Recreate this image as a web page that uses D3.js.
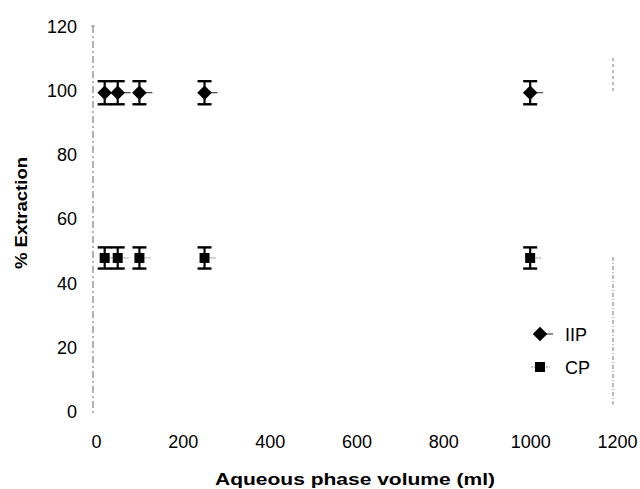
<!DOCTYPE html>
<html>
<head>
<meta charset="utf-8">
<script src="https://cdn.jsdelivr.net/npm/d3@7/dist/d3.min.js"></script>
<style>
  html, body { margin: 0; padding: 0; background: #fff; }
  svg { display: block; }
  text { font-family: "Liberation Sans", Arial, sans-serif; fill: #000; }
</style>
</head>
<body>
<svg id="chart" width="640" height="489"></svg>
<script>
// Aqueous phase volume (ml) and % extraction for each polymer
const volumes = [20, 50, 100, 250, 1000];
const iipValues = [99.2, 99.2, 99.2, 99.2, 99.2];
const iipErrors = [3.6, 3.6, 3.6, 3.6, 3.6];
const cpValues = [47.7, 47.7, 47.7, 47.7, 47.7];
const cpErrors = [3.3, 3.3, 3.3, 3.3, 3.3];
const xTicks = [0, 200, 400, 600, 800, 1000, 1200];
const yTicks = [0, 20, 40, 60, 80, 100, 120];
const seriesNames = ["IIP", "CP"];

const svg = d3.select("#chart");

const x = d3.scaleLinear().domain([0, 1200]).range([96, 617]);
const y = d3.scaleLinear().domain([0, 120]).range([411, 26]);

// Left value axis: broken grey line with labels only
svg.append("line")
  .attr("x1", 93).attr("x2", 93)
  .attr("y1", y(120)).attr("y2", y(0) + 2)
  .attr("stroke", "#666").attr("stroke-width", 1)
  .attr("stroke-dasharray", "7,3,2,3");
svg.append("line")
  .attr("x1", 91).attr("x2", 95)
  .attr("y1", y(120)).attr("y2", y(120))
  .attr("stroke", "#888").attr("stroke-width", 1);

// Right border of the plot area (faint, broken)
svg.append("line")
  .attr("x1", 613).attr("x2", 613)
  .attr("y1", y(110)).attr("y2", y(99))
  .attr("stroke", "#777").attr("stroke-width", 1)
  .attr("stroke-dasharray", "3,3");
svg.append("line")
  .attr("x1", 613).attr("x2", 613)
  .attr("y1", y(48)).attr("y2", y(2))
  .attr("stroke", "#777").attr("stroke-width", 1)
  .attr("stroke-dasharray", "4,2,1,2");

const yAxis = d3.axisLeft(y).tickValues(yTicks).tickSize(0).tickPadding(0).tickFormat(d3.format("d"));
const gy = svg.append("g").attr("transform", "translate(77,0)").call(yAxis);
gy.select(".domain").remove();
gy.selectAll("text")
  .style("font-family", "'Liberation Sans', Arial, sans-serif")
  .style("font-size", "18px").attr("fill", "#000")
  .attr("dy", "0.36em").attr("x", 0);

const xAxis = d3.axisBottom(x).tickValues(xTicks).tickSize(0).tickPadding(0).tickFormat(d3.format("d"));
const gx = svg.append("g").attr("transform", "translate(0,448)").call(xAxis);
gx.select(".domain").remove();
gx.selectAll("text")
  .style("font-family", "'Liberation Sans', Arial, sans-serif")
  .style("font-size", "18px").attr("fill", "#000")
  .attr("dy", "0").attr("y", 0);

// Axis titles
svg.append("text")
  .attr("x", 355).attr("y", 485)
  .attr("text-anchor", "middle")
  .attr("textLength", 280).attr("lengthAdjust", "spacingAndGlyphs")
  .style("font-size", "17px").style("font-weight", "bold")
  .text("Aqueous phase volume (ml)");

svg.append("text")
  .attr("transform", "translate(27,213) rotate(-90)")
  .attr("text-anchor", "middle")
  .attr("textLength", 112).attr("lengthAdjust", "spacingAndGlyphs")
  .style("font-size", "17px").style("font-weight", "bold")
  .text("% Extraction");

// Error bars
function errorBars(values, errors, cls) {
  const g = svg.append("g").attr("class", cls);
  volumes.forEach((v, i) => {
    const cx = x(v), lo = y(values[i] - errors[i]), hi = y(values[i] + errors[i]);
    g.append("line").attr("x1", cx).attr("x2", cx).attr("y1", lo).attr("y2", hi)
      .attr("stroke", "#000").attr("stroke-width", 2.2);
    [lo, hi].forEach(yy => g.append("line")
      .attr("x1", cx - 7).attr("x2", cx + 7).attr("y1", yy).attr("y2", yy)
      .attr("stroke", "#000").attr("stroke-width", 2.4));
  });
}
errorBars(iipValues, iipErrors, "err-iip");
errorBars(cpValues, cpErrors, "err-cp");

// Short connector stubs beside the markers
volumes.forEach((v, i) => {
  svg.append("line")
    .attr("x1", x(v)).attr("x2", x(v) + 13)
    .attr("y1", y(iipValues[i])).attr("y2", y(iipValues[i]))
    .attr("stroke", "#222").attr("stroke-width", 1);
  svg.append("line")
    .attr("x1", x(v)).attr("x2", x(v) + 11)
    .attr("y1", y(cpValues[i])).attr("y2", y(cpValues[i]))
    .attr("stroke", "#888").attr("stroke-width", 1)
    .attr("stroke-dasharray", "2,1");
});

const diamond = d3.symbol().type(d3.symbolDiamond2).size(135);
const square = d3.symbol().type(d3.symbolSquare).size(100);

svg.append("g").selectAll("path").data(volumes).join("path")
  .attr("d", diamond)
  .attr("transform", (d, i) => `translate(${x(d)},${y(iipValues[i])})`)
  .attr("fill", "#000");

svg.append("g").selectAll("path").data(volumes).join("path")
  .attr("d", square)
  .attr("transform", (d, i) => `translate(${x(d)},${y(cpValues[i])})`)
  .attr("fill", "#000");

// Legend
const legend = svg.append("g");
const legendRows = [
  { name: seriesNames[0], sym: diamond, cy: 334 },
  { name: seriesNames[1], sym: square, cy: 367 }
];
legendRows.forEach((r, i) => {
  if (i === 0) {
    legend.append("line").attr("x1", 540).attr("x2", 553)
      .attr("y1", r.cy).attr("y2", r.cy).attr("stroke", "#222").attr("stroke-width", 1);
  } else {
    legend.append("line").attr("x1", 531).attr("x2", 550)
      .attr("y1", r.cy).attr("y2", r.cy).attr("stroke", "#888").attr("stroke-width", 1)
      .attr("stroke-dasharray", "2,1");
  }
  legend.append("path").attr("d", r.sym).attr("transform", `translate(540,${r.cy})`).attr("fill", "#000");
  legend.append("text").attr("x", 565).attr("y", r.cy + 7)
    .style("font-size", "18px").text(r.name);
});
</script>
</body>
</html>
